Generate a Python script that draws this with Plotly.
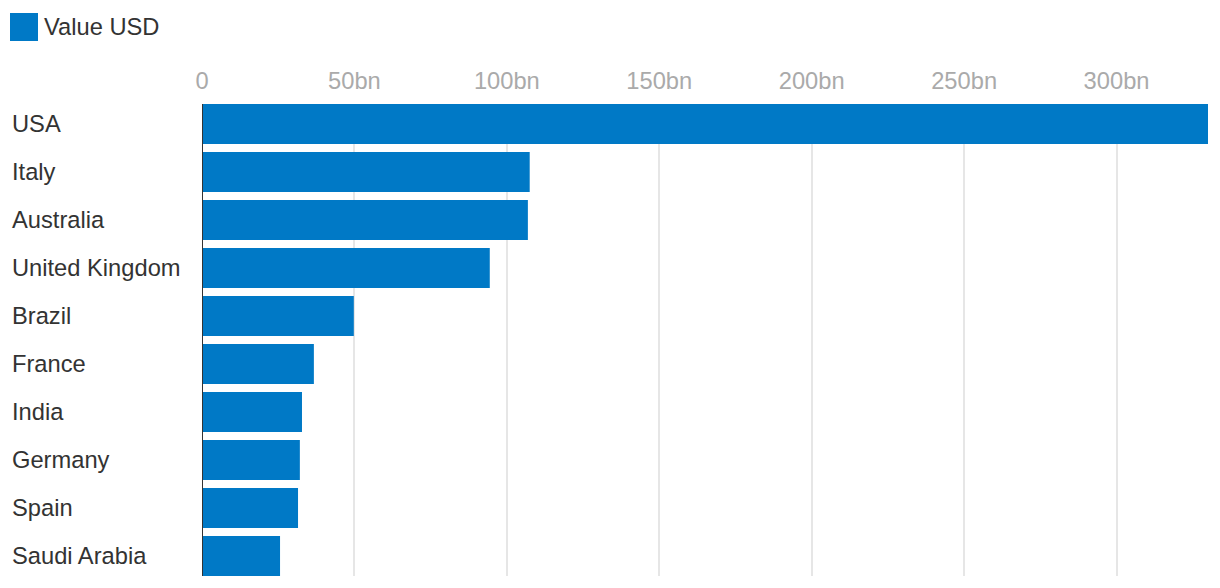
import plotly.graph_objects as go

countries = ["USA", "Italy", "Australia", "United Kingdom", "Brazil", "France",
             "India", "Germany", "Spain", "Saudi Arabia"]
values_bn = [330, 107.5, 106.9, 94.4, 49.8, 36.7, 32.8, 32.1, 31.5, 25.6]
series_name = "Value USD"
tick_vals = [0, 50, 100, 150, 200, 250, 300]
tick_text = ["0", "50bn", "100bn", "150bn", "200bn", "250bn", "300bn"]

BLUE = "#0079C6"
FONT = "Liberation Sans, Arial, sans-serif"
FS = 23.7
# page body has an 8px margin; compensate so the plot lands at the target pixels
OFF = 8
W, H = 1220 - OFF, 588 - OFF
ML, MR, MT, MB = 202 - OFF, 12, 104 - OFF, 12
plot_w = W - ML - MR
plot_h = H - MT - MB

fig = go.Figure()
fig.add_trace(go.Bar(
    x=values_bn, y=list(range(len(countries))), orientation="h",
    marker=dict(color=BLUE, line=dict(width=0)), name=series_name,
    showlegend=False, hoverinfo="x+text", text=countries, textposition="none",
))

half = (1 - 1/6) / 2
fig.update_layout(
    width=W, height=H,
    margin=dict(l=ML, r=MR, t=MT, b=MB, pad=0),
    paper_bgcolor="white", plot_bgcolor="white",
    bargap=1/6,
    font=dict(family=FONT, color="#333333"),
    xaxis=dict(
        side="top", range=[0, 330], tickvals=tick_vals, ticktext=tick_text,
        showgrid=True, gridcolor="#e6e6e6", gridwidth=2,
        zeroline=False, showline=False, ticks="",
        tickfont=dict(family=FONT, size=FS, color="#aaaaaa"),
        ticklabelstandoff=9, fixedrange=True,
    ),
    yaxis=dict(
        range=[len(countries) - 1 + half, -half],
        showticklabels=False, showgrid=False, zeroline=False,
        showline=False, ticks="", fixedrange=True,
    ),
    showlegend=False,
)

# zero baseline
fig.add_shape(type="line", xref="x", yref="paper", x0=0, x1=0, y0=0, y1=1,
              line=dict(color="#333333", width=2))

# category labels, left-aligned
for i, c in enumerate(countries):
    fig.add_annotation(x=(10 - 202) / plot_w, xref="paper", y=i, yref="y",
                       text=c, showarrow=False, xanchor="left", yanchor="middle",
                       font=dict(family=FONT, size=FS, color="#333333"))

# legend
def px_x(px):
    return (px - 202) / plot_w

def px_y(py):
    return (576 - py) / plot_h

fig.add_shape(type="rect", xref="paper", yref="paper",
              x0=px_x(10), x1=px_x(38), y0=px_y(41), y1=px_y(13),
              fillcolor=BLUE, line=dict(width=0))
fig.add_annotation(x=px_x(42), xref="paper", y=px_y(27), yref="paper",
                   text=series_name, showarrow=False, xanchor="left", yanchor="middle",
                   font=dict(family=FONT, size=FS, color="#333333"))

fig.write_html("out.html")
